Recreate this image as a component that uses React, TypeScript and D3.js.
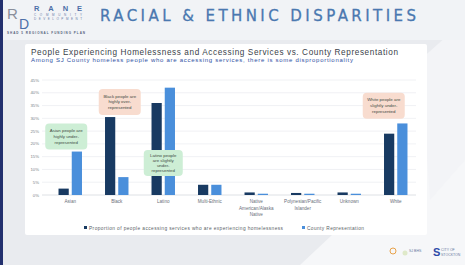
import React, { useEffect, useRef } from 'react';
import * as d3 from 'd3';

const categories = ['Asian', 'Black', 'Latino', 'Multi-Ethnic', 'Native American/Alaska Native', 'Polynesian/Pacific Islander', 'Unknown', 'White'];
const categoryLines = [['Asian'], ['Black'], ['Latino'], ['Multi-Ethnic'], ['Native', 'American/Alaska', 'Native'], ['Polynesian/Pacific', 'Islander'], ['Unknown'], ['White']];
const homelessShare = [2.5, 30.5, 36, 4, 1, 0.8, 1, 24];
const countyShare = [17, 7, 42, 4, 0.5, 0.5, 0.5, 28];
const yTicks = [0, 5, 10, 15, 20, 25, 30, 35, 40, 45];
const seriesNames = ['Proportion of people accessing services who are experiencing homelessness', 'County Representation'];
const notes = [
  { cat: 'Asian', lines: ['Asian people are', 'highly under-', 'represented'], kind: 'under', top: 28, dx: -4 },
  { cat: 'Black', lines: ['Black people are', 'highly over-', 'represented'], kind: 'over', top: 41.5, dx: 3 },
  { cat: 'Latino', lines: ['Latino people', 'are slightly', 'under-', 'represented'], kind: 'under', top: 17.6, dx: 0 },
  { cat: 'White', lines: ['White people are', 'slightly under-', 'represented'], kind: 'over', top: 40, dx: -12 },
];

const App = () => {
  const ref = useRef<SVGSVGElement>(null);

  useEffect(() => {
    const svg = d3.select(ref.current);
    svg.selectAll('*').remove();
    const font = 'Liberation Sans, Arial, sans-serif';

    // slide background
    svg.append('rect').attr('width', 465).attr('height', 265).attr('fill', '#e9ebef');
    svg.append('path').attr('d', 'M300,265 L465,110 L465,265 Z').attr('fill', '#f6f7f9');
    svg.append('path').attr('d', 'M420,60 L465,20 L465,160 L430,200 Z').attr('fill', '#f3f4f7');
    svg.append('path').attr('d', 'M0,0 L465,0 L465,40 L0,40 Z').attr('fill', '#f1f3f6');
    svg.append('rect').attr('x', 0).attr('width', 3).attr('height', 265).attr('fill', '#23306e');

    // header / logo
    svg.append('text').attr('x', 7).attr('y', 19).attr('font-family', font).attr('font-size', 15)
      .attr('fill', '#8a8f9c').text('R');
    svg.append('text').attr('x', 19).attr('y', 29).attr('font-family', font).attr('font-size', 14)
      .attr('fill', '#4d6fa8').text('D');
    svg.append('text').attr('x', 34).attr('y', 11).attr('font-family', font).attr('font-size', 7.5)
      .attr('font-weight', 'bold').attr('fill', '#4d6fa8').attr('textLength', 48).text('RANE');
    svg.append('text').attr('x', 34).attr('y', 16).attr('font-family', font).attr('font-size', 3)
      .attr('fill', '#6b7fa8').attr('textLength', 48).text('COMMUNITY');
    svg.append('text').attr('x', 34).attr('y', 20).attr('font-family', font).attr('font-size', 3)
      .attr('fill', '#6b7fa8').attr('textLength', 48).text('DEVELOPMENT');
    svg.append('text').attr('x', 7).attr('y', 34).attr('font-family', font).attr('font-size', 3)
      .attr('font-weight', 'bold').attr('fill', '#55607a').attr('textLength', 78).text('SHAD 5 REGIONAL FUNDING PLAN');
    svg.append('text').attr('x', 100).attr('y', 21).attr('font-family', 'DejaVu Sans, sans-serif')
      .attr('font-size', 15).attr('fill', '#4a78b0').attr('stroke', '#4a78b0').attr('stroke-width', 0.3)
      .attr('textLength', 316).attr('lengthAdjust', 'spacing')
      .text('RACIAL & ETHNIC DISPARITIES');

    // chart panel
    svg.append('rect').attr('x', 25).attr('y', 44).attr('width', 402).attr('height', 191).attr('rx', 2)
      .attr('fill', '#ffffff');
    svg.append('text').attr('x', 31).attr('y', 55).attr('font-family', font).attr('font-size', 8.2)
      .attr('fill', '#3a3f4a').attr('textLength', 367).text('People Experiencing Homelessness and Accessing Services vs. County Representation');
    svg.append('text').attr('x', 31).attr('y', 61.5).attr('font-family', font).attr('font-size', 6)
      .attr('fill', '#2e4fa3').attr('textLength', 322).text('Among SJ County homeless people who are accessing services, there is some disproportionality');

    const x = d3.scaleBand().domain(categories).range([47, 419]);
    const y = d3.scaleLinear().domain([0, 45]).range([195, 80]);
    const bw = x.bandwidth() * 0.22;
    const gap = 3;

    const grid = svg.append('g');
    yTicks.forEach(t => {
      grid.append('line').attr('x1', 42).attr('x2', 416).attr('y1', y(t)).attr('y2', y(t))
        .attr('stroke', t === 0 ? '#d6d9de' : '#eceef1').attr('stroke-width', 0.8);
      grid.append('text').attr('x', 39).attr('y', y(t) + 1.5).attr('text-anchor', 'end')
        .attr('font-family', font).attr('font-size', 4.3).attr('fill', '#7a7f88').text(`${t}%`);
    });

    const cx = (c: string) => (x(c) as number) + x.bandwidth() / 2;
    const bars = svg.append('g');
    bars.selectAll('.dark').data(categories).enter().append('rect')
      .attr('x', d => cx(d) - gap / 2 - bw)
      .attr('y', (d, i) => y(homelessShare[i]))
      .attr('width', bw)
      .attr('height', (d, i) => y(0) - y(homelessShare[i]))
      .attr('fill', '#183a62');
    bars.selectAll('.light').data(categories).enter().append('rect')
      .attr('x', d => cx(d) + gap / 2)
      .attr('y', (d, i) => y(countyShare[i]))
      .attr('width', bw)
      .attr('height', (d, i) => y(0) - y(countyShare[i]))
      .attr('fill', '#4a8fdb');

    categories.forEach((c, i) => {
      categoryLines[i].forEach((ln, j) => {
        svg.append('text').attr('x', cx(c)).attr('y', 203 + j * 6.5).attr('text-anchor', 'middle')
          .attr('font-family', font).attr('font-size', 4.6).attr('fill', '#6b707a').text(ln);
      });
    });

    // annotations
    notes.forEach(n => {
      const w = n.lines.length > 3 ? 39 : 42;
      const h = 26;
      const step = n.lines.length > 3 ? 5 : 5.8;
      const left = cx(n.cat) - w / 2 + n.dx;
      const top = y(n.top);
      const first = top + h / 2 - ((n.lines.length - 1) * step) / 2 + 1.5;
      svg.append('rect').attr('x', left).attr('y', top).attr('width', w).attr('height', h).attr('rx', 4)
        .attr('fill', n.kind === 'under' ? '#cdeed5' : '#f8dccf');
      n.lines.forEach((ln, j) => {
        svg.append('text').attr('x', left + w / 2).attr('y', first + j * step).attr('text-anchor', 'middle')
          .attr('font-family', font).attr('font-size', 4.4).attr('fill', '#3e4a44').text(ln);
      });
    });

    // legend
    const leg = svg.append('g').attr('font-family', font).attr('font-size', 4.8).attr('fill', '#5a5f68');
    leg.append('rect').attr('x', 84).attr('y', 226).attr('width', 3).attr('height', 3).attr('fill', '#183a62');
    leg.append('text').attr('x', 89).attr('y', 229.5).attr('textLength', 194).text(seriesNames[0]);
    leg.append('rect').attr('x', 302).attr('y', 226).attr('width', 3).attr('height', 3).attr('fill', '#4a8fdb');
    leg.append('text').attr('x', 307).attr('y', 229.5).attr('textLength', 57).text(seriesNames[1]);

    // partner logos
    const logos = svg.append('g').attr('font-family', font);
    logos.append('circle').attr('cx', 393).attr('cy', 251).attr('r', 3).attr('fill', 'none')
      .attr('stroke', '#e8a24a').attr('stroke-width', 1);
    logos.append('circle').attr('cx', 405).attr('cy', 253).attr('r', 2.5).attr('fill', '#dfe9c9');
    logos.append('text').attr('x', 409).attr('y', 252).attr('font-size', 3.5).attr('fill', '#6a7aa0').text('SJ BHS');
    logos.append('text').attr('x', 433).attr('y', 256).attr('font-size', 11).attr('font-weight', 'bold')
      .attr('fill', '#2d4aa8').text('S');
    logos.append('text').attr('x', 441).attr('y', 251).attr('font-size', 3.5).attr('fill', '#6a7aa0').text('CITY OF');
    logos.append('text').attr('x', 441).attr('y', 256).attr('font-size', 3.5).attr('fill', '#6a7aa0').text('STOCKTON');
  }, []);

  return (
    <svg ref={ref} width={465} height={265} style={{ position: 'absolute', left: 0, top: 0 }} />
  );
};

export default App;
